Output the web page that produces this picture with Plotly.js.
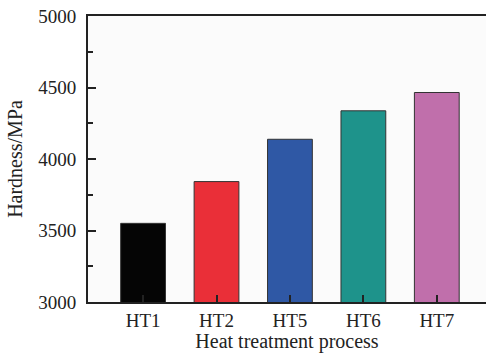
<!DOCTYPE html>
<html><head><meta charset="utf-8">
<script src="https://cdn.plot.ly/plotly-3.0.1.min.js"></script>
<style>html,body{margin:0;padding:0;background:#fff}#c{width:486px;height:353px}</style>
</head><body><div id="c"></div>
<script>
const categories = ["HT1","HT2","HT5","HT6","HT7"];
const hardness = [3550, 3842, 4138, 4337, 4465];
const barColors = ["#050505","#ea2f38","#2f58a5","#1e938b","#c06fab"];
const yTicks = [3000,3500,4000,4500,5000];

const serif = "Liberation Serif, Times New Roman, serif";
const trace = {
  type: "bar", x: categories, y: hardness, width: 0.61,
  marker: {color: barColors, line: {color: "#333", width: 1}},
  hoverinfo: "none"
};
const layout = {
  width: 486, height: 353,
  margin: {l: 88, r: 0, t: 16, b: 51},
  paper_bgcolor: "#ffffff", plot_bgcolor: "#fbfbfb",
  showlegend: false,
  font: {family: serif, color: "#222", size: 19},
  xaxis: {
    range: [-0.75, 4.67], showgrid: false, zeroline: false,
    showline: true, linecolor: "#222", linewidth: 2, mirror: true,
    ticks: "inside", ticklen: 7, tickwidth: 2, tickcolor: "#222",
    tickfont: {family: serif, size: 19, color: "#222"},
    title: {text: "Heat treatment process", font: {family: serif, size: 20, color: "#222"}, standoff: 2}
  },
  yaxis: {
    range: [3000, 5000], showgrid: false, zeroline: false,
    showline: true, linecolor: "#222", linewidth: 2,
    ticks: "inside", ticklen: 8, tickwidth: 2, tickcolor: "#222",
    tickvals: yTicks, ticktext: yTicks.map(String),
    ticklabelstandoff: 6,
    minor: {dtick: 250, ticks: "inside", ticklen: 5, tickwidth: 2, tickcolor: "#222", showgrid: false},
    tickfont: {family: serif, size: 19, color: "#222"},
    title: {text: "Hardness/MPa", font: {family: serif, size: 20, color: "#222"}, standoff: 10}
  }
};
Plotly.newPlot("c", [trace], layout, {staticPlot: true});
</script></body></html>
